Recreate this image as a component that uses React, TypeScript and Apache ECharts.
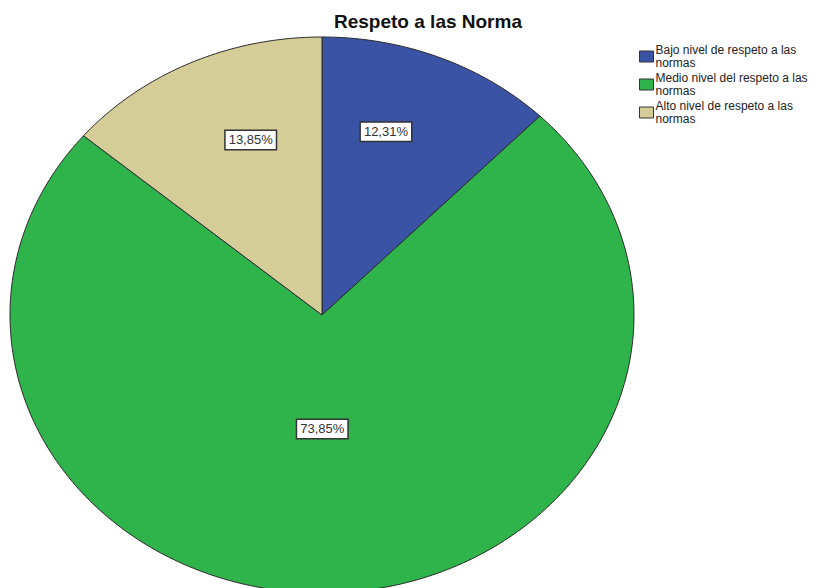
import React, { useEffect, useRef } from "react";
import * as echarts from "echarts";

const TITLE = "Respeto a las Norma";
const CATEGORIES = [
  "Bajo nivel de respeto a las normas",
  "Medio nivel del respeto a las normas",
  "Alto nivel de respeto a las normas",
];
const VALUES = [12.31, 73.85, 13.85];
const COLORS = ["#3A53A5", "#2EB44B", "#D4CD98"];

// layout / style constants
const CX = 322;
const CY = 315;
const RX = 312;
const RY = 278;
const LABEL_ANGLE_FRAC = [0.39, 0.51, 0.6];
const LABEL_RADIUS_FRAC = [0.69, 0.41, 0.67];

function fmt(v: number) {
  return v.toFixed(2).replace(".", ",") + "%";
}

export default function App() {
  const ref = useRef<HTMLDivElement>(null);
  useEffect(() => {
    if (!ref.current) return;
    const chart = echarts.init(ref.current, null, { renderer: "svg" });
    const total = VALUES.reduce((a, b) => a + b, 0);
    const starts: number[] = [];
    let acc = 0;
    VALUES.forEach((v) => {
      starts.push(acc);
      acc += v;
    });

    const series = CATEGORIES.map((name, i) => ({
      type: "custom",
      name,
      coordinateSystem: "none",
      itemStyle: { color: COLORS[i], borderColor: "#2b2b2b", borderWidth: 1 },
      data: [[VALUES[i]]],
      renderItem: (params: any, api: any) => {
        const v = api.value(0);
        const a0 = (starts[i] / total) * Math.PI * 2;
        const a1 = ((starts[i] + v) / total) * Math.PI * 2;
        const pts: number[][] = [[CX, CY]];
        const steps = Math.max(8, Math.ceil(((a1 - a0) / (Math.PI * 2)) * 360));
        for (let k = 0; k <= steps; k++) {
          const a = a0 + ((a1 - a0) * k) / steps;
          pts.push([CX + RX * Math.sin(a), CY - RY * Math.cos(a)]);
        }
        const la = a0 + (a1 - a0) * LABEL_ANGLE_FRAC[i];
        const lr = LABEL_RADIUS_FRAC[i];
        const lx = CX + RX * lr * Math.sin(la);
        const ly = CY - RY * lr * Math.cos(la);
        return {
          type: "group",
          children: [
            {
              type: "polygon",
              shape: { points: pts },
              style: { fill: COLORS[i], stroke: "#2b2b2b", lineWidth: 1 },
            },
            {
              type: "text",
              z2: 100,
              x: lx,
              y: ly,
              style: {
                text: fmt(v),
                fill: "#333",
                font: "13px Arial, 'Liberation Sans', sans-serif",
                align: "center",
                verticalAlign: "middle",
                backgroundColor: "#fff",
                borderColor: "#333",
                borderWidth: 1.5,
                padding: [3, 3, 2, 3],
              },
            },
          ],
        };
      },
    }));

    chart.setOption({
      animation: false,
      backgroundColor: "#fff",
      title: {
        text: TITLE,
        left: 423,
        textAlign: "center",
        top: 7,
        textStyle: {
          fontSize: 19,
          fontWeight: "bold",
          color: "#111",
          fontFamily: "Arial, 'Liberation Sans', sans-serif",
        },
      },
      legend: {
        orient: "vertical",
        left: 634,
        top: 38,
        itemWidth: 14,
        itemHeight: 11,
        itemGap: 1,
        icon: "rect",
        selectedMode: false,
        itemStyle: { borderColor: "#333", borderWidth: 1 },
        formatter: (n: string) => n.replace(/ normas$/, "\nnormas"),
        textStyle: {
          fontSize: 12,
          lineHeight: 13.5,
          color: "#222",
          fontFamily: "Arial, 'Liberation Sans', sans-serif",
          padding: [0, 0, 0, -3],
        },
        data: CATEGORIES,
      },
      series,
    });
    return () => chart.dispose();
  }, []);
  return (
    <div
      ref={ref}
      style={{ position: "fixed", left: 0, top: 0, width: 838, height: 588 }}
    />
  );
}
